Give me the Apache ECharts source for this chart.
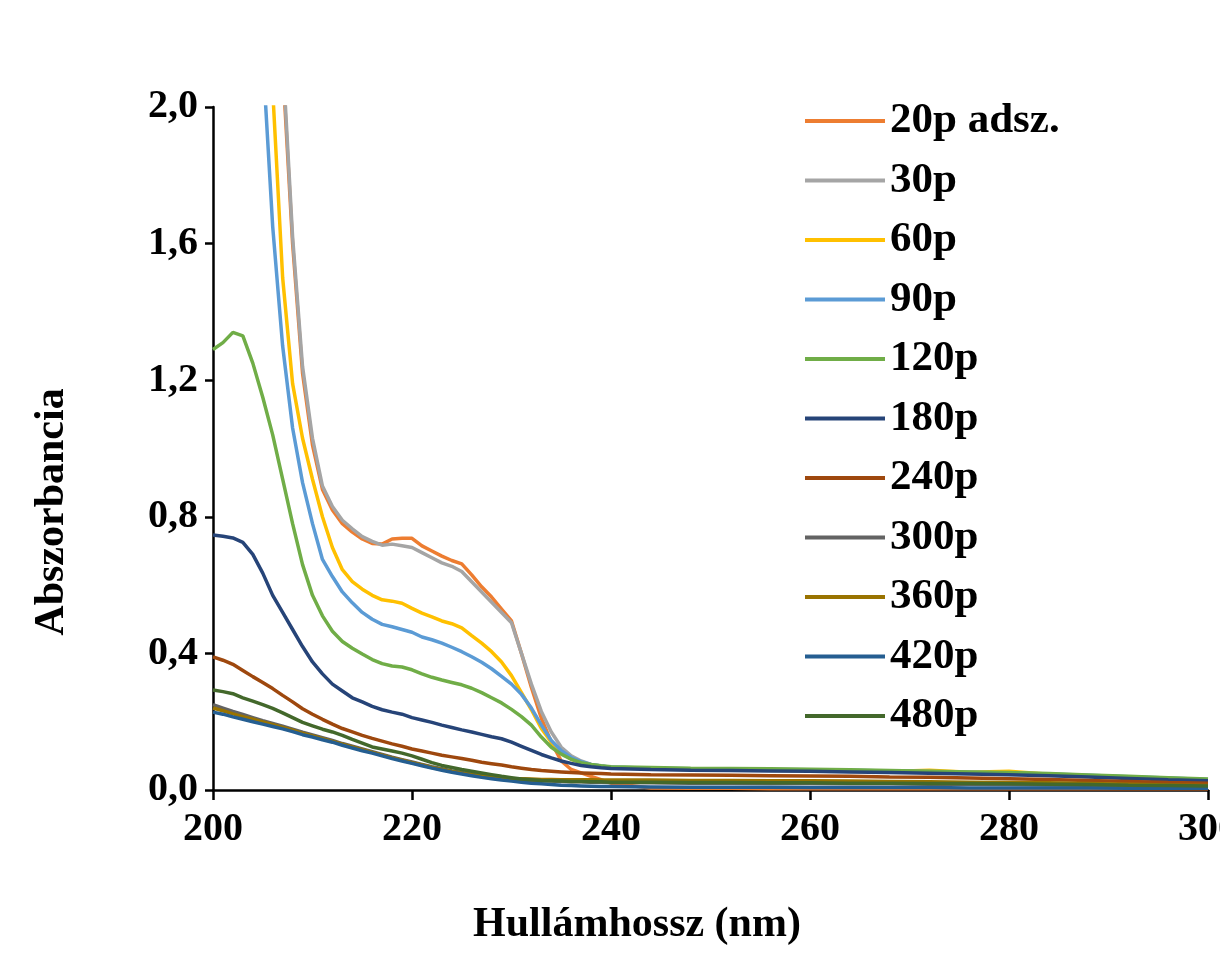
<!DOCTYPE html>
<html>
<head>
<meta charset="utf-8">
<script src="https://cdn.jsdelivr.net/npm/echarts@6/dist/echarts.min.js"></script>
<style>
  html, body { margin: 0; padding: 0; background: #fff; }
  #chart { width: 1220px; height: 954px; }
</style>
</head>
<body>
<div id="chart"></div>
<script>
// Wavelength grid (nm): 1 nm steps up to 240, then 4 nm steps
const wavelengths = [
  200,201,202,203,204,205,206,207,208,209,210,211,212,213,214,215,216,217,218,219,
  220,221,222,223,224,225,226,227,228,229,230,231,232,233,234,235,236,237,238,239,240,
  244,248,252,256,260,264,268,272,276,280,284,288,292,296,300
];

const seriesNames = ['20p adsz.', '30p', '60p', '90p', '120p', '180p', '240p', '300p', '360p', '420p', '480p'];
const seriesColors = ['#ED7D31', '#A5A5A5', '#FFC000', '#5B9BD5', '#70AD47', '#264478', '#9E480E', '#636363', '#997300', '#255E91', '#43682B'];

// Absorbance values, one array per sampling time
const abs20p = [
  4.2,4.0,3.8,3.5,3.2,2.9,2.55,2.12,1.6,1.22,1.01,0.88,0.82,0.78,0.755,0.735,0.722,0.72,0.735,0.737,
  0.737,0.715,0.70,0.685,0.672,0.662,0.63,0.595,0.565,0.53,0.495,0.40,0.30,0.21,0.14,0.085,0.06,0.05,0.04,0.03,0.02,
  0.006,0.005,0.005,0.004,0.004,0.004,0.004,0.004,0.004,0.004,0.004,0.004,0.004,0.004,0.004
];
const abs30p = [
  4.2,4.0,3.8,3.5,3.2,2.9,2.55,2.15,1.62,1.24,1.03,0.89,0.83,0.79,0.765,0.742,0.728,0.717,0.72,0.715,
  0.71,0.695,0.68,0.665,0.655,0.64,0.61,0.58,0.55,0.52,0.49,0.40,0.31,0.23,0.17,0.125,0.10,0.085,0.075,0.07,0.066,
  0.063,0.061,0.06,0.059,0.058,0.056,0.055,0.053,0.051,0.049,0.046,0.042,0.038,0.034,0.03
];
const abs60p = [
  4.0,3.8,3.5,3.2,2.85,2.45,2.05,1.5,1.19,1.03,0.91,0.80,0.71,0.645,0.61,0.588,0.57,0.557,0.553,0.547,
  0.532,0.518,0.507,0.495,0.487,0.475,0.452,0.43,0.405,0.375,0.335,0.285,0.235,0.18,0.14,0.11,0.09,0.08,0.073,0.068,0.065,
  0.062,0.06,0.059,0.058,0.057,0.055,0.054,0.058,0.052,0.055,0.046,0.041,0.037,0.033,0.03
];
const abs90p = [
  3.9,3.6,3.3,2.95,2.6,2.15,1.65,1.3,1.06,0.90,0.78,0.675,0.625,0.58,0.548,0.52,0.50,0.485,0.478,0.47,
  0.462,0.448,0.44,0.43,0.418,0.405,0.39,0.374,0.355,0.333,0.31,0.28,0.24,0.19,0.145,0.115,0.095,0.083,0.075,0.07,0.067,
  0.064,0.062,0.061,0.06,0.059,0.058,0.056,0.054,0.052,0.05,0.047,0.043,0.039,0.035,0.031
];
const abs120p = [
  1.29,1.31,1.34,1.33,1.25,1.15,1.04,0.91,0.78,0.66,0.57,0.51,0.465,0.435,0.415,0.398,0.382,0.37,0.363,0.36,
  0.352,0.34,0.33,0.322,0.315,0.308,0.298,0.285,0.27,0.255,0.236,0.215,0.19,0.155,0.125,0.105,0.09,0.08,0.075,0.071,0.068,
  0.066,0.064,0.063,0.062,0.061,0.059,0.057,0.055,0.053,0.051,0.048,0.044,0.04,0.036,0.032
];
const abs180p = [
  0.747,0.743,0.738,0.725,0.69,0.635,0.57,0.52,0.47,0.42,0.375,0.34,0.31,0.29,0.27,0.258,0.245,0.235,0.228,0.222,
  0.212,0.205,0.198,0.19,0.183,0.176,0.17,0.163,0.156,0.15,0.14,0.128,0.116,0.104,0.094,0.085,0.078,0.072,0.068,0.065,0.063,
  0.06,0.058,0.057,0.056,0.055,0.053,0.051,0.049,0.047,0.045,0.042,0.038,0.034,0.03,0.027
];
const abs240p = [
  0.39,0.38,0.368,0.35,0.332,0.315,0.297,0.277,0.258,0.238,0.222,0.207,0.193,0.18,0.17,0.16,0.151,0.143,0.135,0.128,
  0.12,0.114,0.108,0.102,0.097,0.092,0.087,0.081,0.077,0.073,0.068,0.064,0.06,0.057,0.055,0.053,0.051,0.05,0.049,0.048,0.047,
  0.045,0.044,0.043,0.042,0.041,0.04,0.038,0.037,0.035,0.033,0.031,0.028,0.025,0.022,0.02
];
const abs300p = [
  0.25,0.24,0.23,0.221,0.212,0.203,0.195,0.187,0.178,0.169,0.161,0.153,0.145,0.136,0.128,0.12,0.112,0.104,0.096,0.089,
  0.082,0.075,0.068,0.062,0.056,0.051,0.046,0.042,0.038,0.035,0.032,0.03,0.028,0.027,0.026,0.025,0.024,0.024,0.023,0.023,0.022,
  0.021,0.02,0.02,0.019,0.019,0.018,0.018,0.017,0.017,0.016,0.015,0.014,0.013,0.012,0.011
];
const abs360p = [
  0.24,0.232,0.223,0.215,0.207,0.199,0.191,0.183,0.175,0.166,0.158,0.15,0.142,0.134,0.126,0.118,0.11,0.102,0.094,0.087,
  0.08,0.073,0.066,0.06,0.054,0.049,0.045,0.041,0.038,0.036,0.034,0.033,0.032,0.031,0.031,0.03,0.03,0.03,0.03,0.029,0.029,
  0.029,0.028,0.028,0.027,0.027,0.026,0.025,0.024,0.023,0.022,0.021,0.019,0.017,0.015,0.013
];
const abs420p = [
  0.228,0.222,0.214,0.207,0.20,0.193,0.186,0.179,0.171,0.162,0.155,0.147,0.14,0.131,0.123,0.115,0.108,0.10,0.092,0.085,
  0.078,0.071,0.064,0.058,0.052,0.047,0.042,0.037,0.033,0.029,0.026,0.023,0.02,0.018,0.016,0.014,0.013,0.012,0.011,0.01,0.01,
  0.009,0.008,0.008,0.008,0.007,0.007,0.007,0.007,0.006,0.006,0.006,0.006,0.005,0.005,0.005
];
const abs480p = [
  0.293,0.288,0.282,0.27,0.26,0.25,0.239,0.226,0.212,0.198,0.188,0.178,0.17,0.16,0.148,0.137,0.126,0.12,0.114,0.108,
  0.10,0.09,0.08,0.072,0.066,0.06,0.055,0.05,0.045,0.04,0.036,0.032,0.03,0.028,0.027,0.026,0.025,0.025,0.024,0.024,0.023,
  0.023,0.022,0.022,0.021,0.021,0.02,0.02,0.019,0.019,0.018,0.017,0.016,0.014,0.013,0.012
];

const seriesValues = [abs20p, abs30p, abs60p, abs90p, abs120p, abs180p, abs240p, abs300p, abs360p, abs420p, abs480p];

const xTicks = { min: 200, max: 300, interval: 20 };
const yTicks = { min: 0, max: 2.0, interval: 0.4 };

const FONT = "'Liberation Serif', 'Times New Roman', serif";

const chart = echarts.init(document.getElementById('chart'), null, { renderer: 'canvas' });

const series = seriesNames.map((name, i) => ({
  name: name,
  type: 'line',
  symbol: 'none',
  clip: true,
  lineStyle: { color: seriesColors[i], width: 3.5 },
  itemStyle: { color: seriesColors[i] },
  data: wavelengths.map((w, k) => [w, seriesValues[i][k]])
}));

chart.setOption({
  animation: false,
  backgroundColor: '#ffffff',
  grid: { left: 213, right: 12, top: 107, bottom: 164, containLabel: false, outerBoundsMode: 'none' },
  legend: {
    data: seriesNames,
    orient: 'vertical',
    left: 805,
    top: 99,
    padding: 0,
    icon: 'rect',
    itemWidth: 80,
    itemHeight: 4,
    itemGap: 15.5,
    itemTextGap: 9,
    textStyle: { fontFamily: FONT, fontWeight: 'bold', fontSize: 43, color: '#000', lineHeight: 44 }
  },
  xAxis: {
    type: 'value',
    min: xTicks.min, max: xTicks.max, interval: xTicks.interval,
    axisLine: { show: true, lineStyle: { color: '#000', width: 2.5 } },
    axisTick: { show: true, inside: false, length: 10, lineStyle: { color: '#000', width: 2.5 } },
    axisLabel: { margin: 20, fontFamily: FONT, fontWeight: 'bold', fontSize: 40, color: '#000' },
    splitLine: { show: false }
  },
  yAxis: {
    type: 'value',
    min: yTicks.min, max: yTicks.max, interval: yTicks.interval,
    axisLine: { show: true, lineStyle: { color: '#000', width: 2.5 } },
    axisTick: { show: true, inside: false, length: 8, lineStyle: { color: '#000', width: 2.5 } },
    axisLabel: {
      margin: 15, fontFamily: FONT, fontWeight: 'bold', fontSize: 40, color: '#000',
      formatter: v => v.toFixed(1).replace('.', ',')
    },
    splitLine: { show: false }
  },
  graphic: [
    {
      type: 'text',
      x: 52, y: 512,
      rotation: Math.PI / 2,
      style: {
        text: 'Abszorbancia',
        fontFamily: FONT, fontWeight: 'bold', fontSize: 42, fill: '#000',
        align: 'center', verticalAlign: 'middle'
      }
    },
    {
      type: 'text',
      x: 637, y: 925,
      style: {
        text: 'Hullámhossz (nm)',
        fontFamily: FONT, fontWeight: 'bold', fontSize: 42, fill: '#000',
        align: 'center', verticalAlign: 'middle'
      }
    }
  ],
  series: series
});
</script>
</body>
</html>
